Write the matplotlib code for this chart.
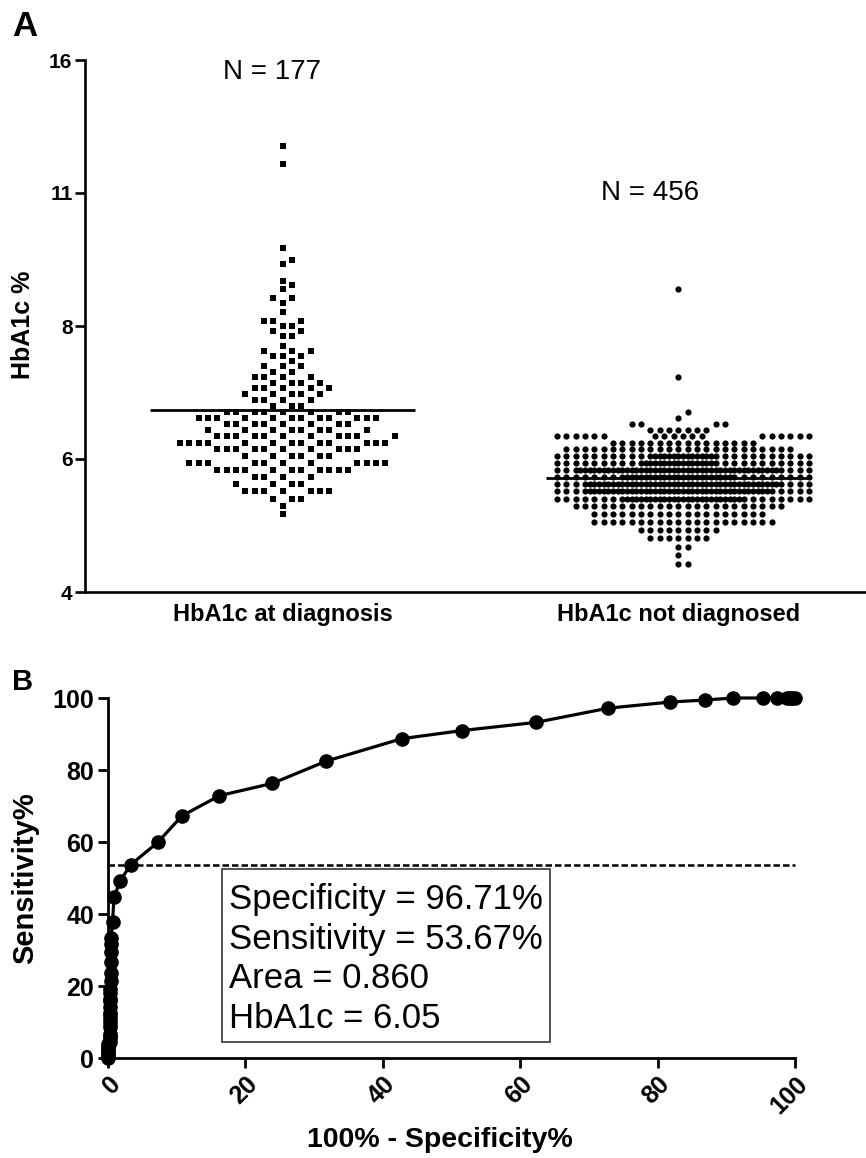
import numpy as np
import matplotlib
matplotlib.use("Agg")
import matplotlib.pyplot as plt
from matplotlib.patches import Rectangle
from matplotlib.transforms import blended_transform_factory

plt.rcParams['font.family'] = ['Liberation Sans', 'DejaVu Sans']

# ---------------- data ----------------
categories = ['HbA1c at diagnosis', 'HbA1c not diagnosed']
n_labels = ['N = 177', 'N = 456']

# HbA1c level (%) and number of subjects at that level
diag_levels = [12.8, 12.2, 9.8, 9.5, 9.4, 9.0, 8.9, 8.8, 8.6, 8.5, 8.3, 8.1, 8.0,
               7.9, 7.8, 7.6, 7.5, 7.4, 7.3, 7.2, 7.1, 7.0, 6.9, 6.8, 6.7, 6.6,
               6.5, 6.4, 6.3, 6.2, 6.1, 6.0, 5.9, 5.8, 5.7, 5.6, 5.5, 5.4, 5.3,
               5.2, 5.1, 5.0, 4.9]
diag_counts = [1, 1, 1, 1, 1, 1, 1, 1, 2, 1, 1, 3, 2,
               2, 2, 1, 3, 3, 1, 3, 2, 4, 4, 5, 5, 4,
               3, 8, 12, 8, 8, 11, 13, 10, 6, 11, 11, 4, 4,
               7, 3, 1, 1]

nodiag_levels = [8.8, 7.0, 6.4, 6.3, 6.2, 6.1, 6.0, 5.9, 5.8, 5.7, 5.6, 5.5,
                 5.4, 5.3, 5.2, 5.1, 5.0, 4.9, 4.8, 4.7, 4.6, 4.5, 4.4, 4.3]
nodiag_counts = [1, 1, 1, 1, 4, 7, 18, 16, 25, 35, 36, 50,
                 40, 49, 48, 41, 23, 19, 20, 9, 7, 2, 1, 2]

a_ytick_values = [4, 5.657, 8, 11.314, 16]
a_ytick_labels = ['4', '6', '8', '11', '16']

roc_ticks = [0, 20, 40, 60, 80, 100]
cutoff = 6.05
box_lines = ['Specificity = 96.71%', 'Sensitivity = 53.67%',
             'Area = 0.860', 'HbA1c = 6.05']

# ---------------- figure ----------------
W, H, DPI = 866, 1158, 100
fig = plt.figure(figsize=(W / DPI, H / DPI), dpi=DPI)


def px_box(l, t, r, b):
    return [l / W, 1 - b / H, (r - l) / W, (b - t) / H]


def fx(x):
    return x / W


def fy(y):
    return 1 - y / H


# ---------------- panel A ----------------
A_l, A_t, A_r, A_b = 85, 60, 866, 592
axA = fig.add_axes(px_box(A_l, A_t, A_r, A_b))
axA.set_yscale('log', base=2)
axA.set_ylim(4, 16)
unit_px = 395.6
x_left = -(282.7 - A_l) / unit_px
axA.set_xlim(x_left, x_left + (A_r - A_l) / unit_px)
px_per_log2 = (A_b - A_t) / np.log2(16 / 4)
slot = 9.33 / unit_px


def swarm(levels, counts, center, n_slots, marker_px):
    """Place points row by row (ascending value), nearest free slot to centre."""
    thr = marker_px / px_per_log2
    order = sorted(range(len(levels)), key=lambda i: levels[i])
    full = [0]
    j = 1
    while len(full) < n_slots:
        full.append(j)
        if len(full) < n_slots:
            full.append(-j)
        j += 1
    half = []
    j = 0
    while len(half) < n_slots - 1:
        half.append(j + 0.5)
        if len(half) < n_slots - 1:
            half.append(-(j + 0.5))
        j += 1
    placed = {}
    xs, ys = [], []
    for i in order:
        lv = levels[i]
        ly = np.log2(lv)
        for _ in range(counts[i]):
            spot = None
            for k in full + half:
                if all(abs(py - ly) >= thr for py in placed.get(k, [])):
                    spot = k
                    break
            if spot is None:
                spot = 0
            placed.setdefault(spot, []).append(ly)
            xs.append(center + spot * slot)
            ys.append(lv)
    return np.array(xs), np.array(ys)


dx, dy = swarm(diag_levels, diag_counts, 0, 26, 7.6)
nx, ny = swarm(nodiag_levels, nodiag_counts, 1, 28, 6.5)

axA.scatter(dx, dy, marker='s', s=23, color='black', linewidths=0, zorder=3)
axA.scatter(nx, ny, marker='o', s=20, color='black', linewidths=0, zorder=3)

diag_vals = np.repeat(diag_levels, diag_counts)
nodiag_vals = np.repeat(nodiag_levels, nodiag_counts)
half_w = 0.335
for c, vals in ((0, diag_vals), (1, nodiag_vals)):
    axA.plot([c - half_w, c + half_w], [vals.mean()] * 2, color='black',
             lw=2.0, zorder=4, solid_capstyle='butt')

axA.set_yticks(a_ytick_values)
axA.set_yticklabels(a_ytick_labels, fontsize=15, fontweight='bold')
axA.yaxis.set_minor_locator(matplotlib.ticker.NullLocator())
axA.set_xticks([])
for s in ('top', 'right'):
    axA.spines[s].set_visible(False)
for s in ('left', 'bottom'):
    axA.spines[s].set_linewidth(1.9)
axA.tick_params(axis='y', direction='out', length=7, width=1.9, pad=2)

cat_tr = blended_transform_factory(axA.transData, fig.transFigure)
for c, lab in enumerate(categories):
    axA.text(c, fy(615), lab, transform=cat_tr, ha='center', va='center',
             fontsize=17, fontweight='bold')

fig.text(fx(271.7), fy(72), n_labels[0], ha='center', va='center', fontsize=20)
fig.text(fx(649.7), fy(193), n_labels[1], ha='center', va='center', fontsize=20)
fig.text(fx(23), fy(325), 'HbA1c %', rotation=90, ha='center', va='center',
         fontsize=18, fontweight='bold')
fig.text(fx(12), fy(27), 'A', ha='left', va='center', fontsize=25, fontweight='bold')

# ---------------- panel B ----------------
axB = fig.add_axes(px_box(108, 698, 795, 1058))
all_levels = sorted(set(diag_levels) | set(nodiag_levels), reverse=True)
fpr = [0.0]
tpr = [0.0]
for t in all_levels:
    fpr.append(100 * np.mean(nodiag_vals >= t))
    tpr.append(100 * np.mean(diag_vals >= t))
axB.plot(fpr, tpr, '-o', color='black', lw=2.3, ms=9.5, clip_on=False, zorder=3)
sens_cut = 100 * np.mean(diag_vals > cutoff)
axB.plot([0, 100], [sens_cut, sens_cut], color='black', lw=1.8,
         ls=(0, (2.6, 1.2)), zorder=2, clip_on=False)
axB.set_xlim(0, 100)
axB.set_ylim(0, 100)
axB.set_xticks(roc_ticks)
axB.set_yticks(roc_ticks)
axB.set_yticklabels([str(v) for v in roc_ticks], fontsize=18, fontweight='bold')
axB.set_xticklabels([str(v) for v in roc_ticks], fontsize=18, fontweight='bold',
                    rotation=45, ha='right', va='top', rotation_mode='anchor')
for s in ('top', 'right'):
    axB.spines[s].set_visible(False)
for s in ('left', 'bottom'):
    axB.spines[s].set_linewidth(2.0)
axB.tick_params(direction='out', length=7, width=2.0, pad=3)

fig.patches.append(Rectangle((fx(222), fy(1042)), (550 - 222) / W, (1042 - 869) / H,
                             transform=fig.transFigure, fill=False,
                             edgecolor='#333333', lw=1.2))
fig.text(fx(229), fy(883), '\n'.join(box_lines), ha='left', va='top',
         fontsize=25, linespacing=1.25)

fig.text(fx(25), fy(878), 'Sensitivity%', rotation=90, ha='center', va='center',
         fontsize=21, fontweight='bold')
fig.text(fx(440), fy(1140), '100% - Specificity%', ha='center', va='center',
         fontsize=20.5, fontweight='bold')
fig.text(fx(12), fy(682), 'B', ha='left', va='center', fontsize=21, fontweight='bold')

fig.savefig('out.png', dpi=DPI)
